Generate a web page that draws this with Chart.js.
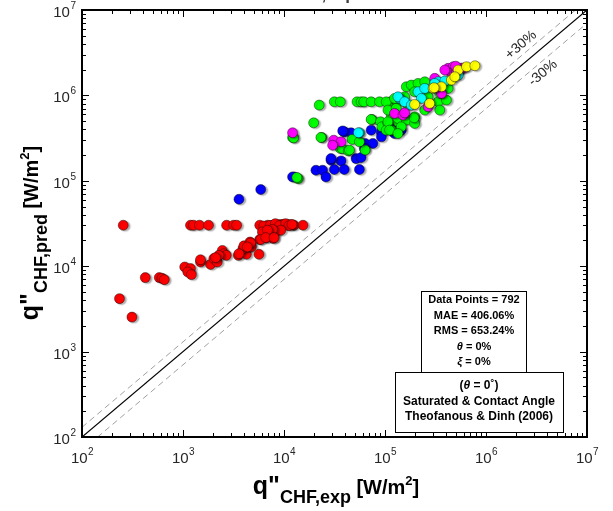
<!DOCTYPE html>
<html><head><meta charset="utf-8">
<script src="https://cdn.jsdelivr.net/npm/chart.js@4.4.1/dist/chart.umd.min.js"></script>
<style>html,body{margin:0;padding:0;background:#fff;}#wrap{width:613px;height:511px;}</style>
</head><body><div id="wrap"><canvas id="c" width="613" height="511"></canvas></div>
<script>
// ---- data (W/m^2) ----
const AXIS_MIN = 1e2, AXIS_MAX = 1e7;
const MAJOR_TICKS = [1e2, 1e3, 1e4, 1e5, 1e6, 1e7];
const MAJOR_EXP = ['2', '3', '4', '5', '6', '7'];
const MINOR_MULT = [2, 3, 4, 5, 6, 7, 8, 9];

const RED_X = [256,1186,1268,1455,1788,2700,3170,3395,5750,6900,7740,8680,9300,9950,10900,11700,12500,15400,6300,7300,8200,9000,10400,11200,12000,
  235,312,423,582,620,653,1040,1186,1115,1211,1489,1873,2019,2183,2448,2540,2680,3530,4240,3920,4010,4600,4750,5650,5740,6110,6700,7110,7800,8290,9290,7690,6850,5880,6590,7980,4680,4330,3580,2265,2100,1489];
const RED_Y = [30200,30200,30200,30200,30200,30200,30200,30200,30200,30200,30200,30500,30800,31000,30800,30500,30200,30200,29500,30000,31500,29800,31500,29800,30800,
  4170,2535,7350,7350,7210,6960,9790,9380,8560,7970,11200,10500,12300,11200,15300,14000,13400,13400,13800,16100,17300,19200,16800,13800,20500,25200,21600,23000,21100,25200,26400,26900,26400,20500,21600,21600,18700,16800,14000,13400,12600,11900];

const BLUE_X = [3580,5880,12600,12150,39500,46100,72900,91700,124300,115300,98900,144800,38100,63500,75800,62500,92000,29200,36700,51700,58000,29200,20700,24100,31500,39500,55800,26000];
const BLUE_Y = [60800,79000,111000,111000,374000,365000,392000,374000,358000,449000,449000,392000,384000,274000,274000,239000,327000,174000,171000,182000,187000,182000,133000,133000,135500,135500,135500,111000];

const GREEN_X = [13800,13400,22300,31500,36100,52900,58000,61700,72900,88200,113500,132100,19650,23600,23200,12150,12430,74100,72900,90200,93100,106900,115300,132100,115300,102800,134300,47200,36100,37550,43300,44400,63500,55800,
  102800,124300,162500,182100,212300,247200,156300,196500,106900,129200,169000,106900,134300,162500,196500,247200,335700,405500,348300,421700,110900,144800,196500,134300,266900,348300,193800];
const GREEN_Y = [106000,109400,770000,841000,841000,841000,841000,841000,841000,841000,841000,841000,477000,322000,322000,322000,318000,523000,523000,491000,429000,470000,571000,615000,392000,392000,491000,305000,239000,239000,224000,229000,229000,286000,
  841000,922000,1261000,1320000,1382000,1443000,963000,1102000,673000,704000,770000,491000,537000,513000,561000,673000,841000,881000,673000,1208000,392000,429000,470000,358000,963000,1055000,546000];

const MAGENTA_X = [12150,31000,36700,30300,124300,150600,156300,421700,473000,571800,266900,362200,454700,310500,510500,390400,530600,600000,500000];
const MAGENTA_Y = [365000,299000,286000,261000,615000,587000,625000,2074000,2164000,2074000,735000,1055000,1811000,1583000,1891000,1980000,2000000,2100000,2200000];

const CYAN_X = [55800,54500,139300,134300,156300,212300,247200,335700,390400,229100,530600,182100,310500];
const CYAN_Y = [365000,365000,922000,963000,841000,1102000,1208000,1443000,1471000,922000,1729000,770000,1382000];

const YELLOW_X = [196500,276700,299200,362200,454700,530600,641200,776000,491000,306000];
const YELLOW_Y = [784000,805000,1208000,1261000,1511000,1980000,2164000,2224000,1652000,1230000];

const BAND_FACTORS = [1.3, 0.7];
const STATS_LINES = [
  [['Data Points = 792','b']],
  [['MAE = 406.06%','b']],
  [['RMS = 653.24%','b']],
  [['\u03b8','i'],[' = 0%','b']],
  [['\u03be','i'],[' = 0%','b']]
];
const INFO_LINES = [
  [['(','b'],['\u03b8','i'],[' = 0','b'],['\u02da','b'],[')','b']],
  [['Saturated & Contact Angle','b']],
  [['Theofanous & Dinh (2006)','b']]
];

// ---- build ----
const pts = (xs, ys) => xs.map((x, i) => ({x, y: ys[i]}));
function scatter(label, xs, ys, color, order) {
  return {type:'scatter', label, data: pts(xs, ys), backgroundColor: color,
    borderColor: 'rgba(0,0,0,0.6)', borderWidth: 0.7, pointRadius: 5, pointHoverRadius: 5, order, isMarker: true};
}
function line(label, factor, color, dash, width) {
  return {type:'line', label, data: [{x: AXIS_MIN, y: AXIS_MIN*factor}, {x: AXIS_MAX, y: AXIS_MAX*factor}],
    borderColor: color, borderDash: dash, borderWidth: width, pointRadius: 0, fill: false, order: 10};
}

const FONT = '"Liberation Sans", Arial, sans-serif';

function drawSegs(ctx, segs, cx, y, size) {
  const f = s => (s[1] === 'i' ? 'italic bold ' : 'bold ') + size + 'px ' + FONT;
  let w = 0;
  segs.forEach(s => { ctx.font = f(s); w += ctx.measureText(s[0]).width; });
  let x = cx - w / 2;
  segs.forEach(s => { ctx.font = f(s); ctx.fillText(s[0], x, y); x += ctx.measureText(s[0]).width; });
}

const decor = {
  id: 'decor',
  beforeDatasetDraw(chart, args) {
    const ds = chart.data.datasets[args.index];
    if (ds.isMarker) {
      const ctx = chart.ctx;
      ctx.save();
      ctx.shadowColor = 'rgba(0,0,0,0.33)';
      ctx.shadowOffsetX = 2; ctx.shadowOffsetY = 1; ctx.shadowBlur = 1.5;
    }
  },
  afterDatasetDraw(chart, args) {
    const ds = chart.data.datasets[args.index];
    if (ds.isMarker) chart.ctx.restore();
  },
  afterDraw(chart) {
    const ctx = chart.ctx, ca = chart.chartArea;
    const xs = chart.scales.x, ys = chart.scales.y;
    ctx.save();
    // ticks (inward, all four sides)
    ctx.strokeStyle = '#000'; ctx.lineWidth = 1;
    const tick = (v, len) => {
      const px = Math.round(xs.getPixelForValue(v)) + 0.5;
      const py = Math.round(ys.getPixelForValue(v)) + 0.5;
      ctx.beginPath();
      ctx.moveTo(px, ca.bottom); ctx.lineTo(px, ca.bottom - len);
      ctx.moveTo(px, ca.top); ctx.lineTo(px, ca.top + len);
      ctx.moveTo(ca.left, py); ctx.lineTo(ca.left + len, py);
      ctx.moveTo(ca.right, py); ctx.lineTo(ca.right - len, py);
      ctx.stroke();
    };
    MAJOR_TICKS.forEach((v, i) => {
      tick(v, 7);
      if (i < MAJOR_TICKS.length - 1) MINOR_MULT.forEach(m => tick(v * m, 4));
    });
    // frame
    ctx.lineWidth = 2;
    ctx.strokeRect(ca.left, ca.top, ca.right - ca.left, ca.bottom - ca.top);

    // tick labels
    ctx.fillStyle = '#262626';
    ctx.textBaseline = 'alphabetic';
    MAJOR_TICKS.forEach((v, i) => {
      ctx.font = '15px ' + FONT;
      const w10 = ctx.measureText('10').width;
      ctx.font = '10px ' + FONT;
      const we = ctx.measureText(MAJOR_EXP[i]).width;
      const px = xs.getPixelForValue(v);
      let x0 = px - (w10 + we) / 2;
      ctx.font = '15px ' + FONT; ctx.textAlign = 'left';
      ctx.fillText('10', x0, 463);
      ctx.font = '10px ' + FONT;
      ctx.fillText(MAJOR_EXP[i], x0 + w10 + 0.5, 455);
      const py = ys.getPixelForValue(v);
      const xr = ca.left - 6;
      ctx.fillText(MAJOR_EXP[i], xr - we, py - 1);
      ctx.font = '15px ' + FONT;
      ctx.fillText('10', xr - we - w10 - 0.5, py + 7);
    });

    // top clipped title fragment
    ctx.fillStyle = '#404040';
    ctx.font = 'bold 17px ' + FONT; ctx.textAlign = 'center';
    ctx.fillText('CHF,exp', 322, 0);

    // axis titles
    const title = (sub) => [
      ['q"', 'bold 25px ' + FONT, 0],
      [sub, 'bold 18px ' + FONT, 9],
      [' [W/m', 'bold 20px ' + FONT, 0],
      ['2', 'bold 13px ' + FONT, -9],
      [']', 'bold 20px ' + FONT, 0]
    ];
    const drawTitle = (parts, cx, base) => {
      let w = 0;
      parts.forEach(p => { ctx.font = p[1]; w += ctx.measureText(p[0]).width; });
      let x = cx - w / 2;
      ctx.textAlign = 'left';
      parts.forEach(p => { ctx.font = p[1]; ctx.fillText(p[0], x, base + p[2]); x += ctx.measureText(p[0]).width; });
    };
    ctx.fillStyle = '#000';
    drawTitle(title('CHF,exp'), 336, 494);
    ctx.save();
    ctx.translate(38, 233); ctx.rotate(-Math.PI / 2);
    drawTitle(title('CHF,pred'), 0, 0);
    ctx.restore();

    // band labels
    const ang = Math.atan2(ys.getPixelForValue(1e5) - ys.getPixelForValue(1e6), xs.getPixelForValue(1e6) - xs.getPixelForValue(1e5));
    ctx.fillStyle = '#262626'; ctx.font = '14px ' + FONT; ctx.textAlign = 'center'; ctx.textBaseline = 'middle';
    ctx.save(); ctx.translate(521, 45); ctx.rotate(-ang); ctx.fillText('+30%', 0, 0); ctx.restore();
    ctx.save(); ctx.translate(543, 73); ctx.rotate(-ang); ctx.fillText('-30%', 0, 0); ctx.restore();

    // text boxes
    ctx.textBaseline = 'middle';
    ctx.lineWidth = 1; ctx.strokeStyle = '#000';
    ctx.fillStyle = '#fff';
    ctx.fillRect(421, 291, 105, 81); ctx.strokeRect(421.5, 291.5, 105, 81);
    ctx.fillRect(395, 372, 168, 60); ctx.strokeRect(395.5, 372.5, 168, 60);
    ctx.fillStyle = '#000'; ctx.textAlign = 'left';
    STATS_LINES.forEach((segs, i) => drawSegs(ctx, segs, 474, 300 + i * 15.5, 11));
    INFO_LINES.forEach((segs, i) => drawSegs(ctx, segs, 479, 386 + i * 15.5, 12));
    ctx.restore();
  }
};

new Chart(document.getElementById('c'), {
  data: {
    datasets: [
      scatter('yellow', YELLOW_X, YELLOW_Y, '#ffff00', 0),
      scatter('cyan', CYAN_X, CYAN_Y, '#00ffff', 1),
      scatter('magenta', MAGENTA_X, MAGENTA_Y, '#ff00ff', 2),
      scatter('green', GREEN_X, GREEN_Y, '#00ff00', 3),
      scatter('blue', BLUE_X, BLUE_Y, '#0000ff', 4),
      scatter('red', RED_X, RED_Y, '#ff0000', 5),
      line('y = x', 1, '#000', [], 1.2),
      line('+30%', BAND_FACTORS[0], '#a0a0a0', [6, 4], 1),
      line('-30%', BAND_FACTORS[1], '#a0a0a0', [6, 4], 1)
    ]
  },
  options: {
    responsive: false, animation: false, devicePixelRatio: 1,
    layout: {padding: {left: 0, top: 10, right: 26, bottom: 0}},
    plugins: {legend: {display: false}, tooltip: {enabled: false}},
    scales: {
      x: {type: 'logarithmic', min: AXIS_MIN, max: AXIS_MAX,
          ticks: {display: false}, grid: {display: false}, border: {display: false},
          afterFit: s => { s.height = 74; }},
      y: {type: 'logarithmic', min: AXIS_MIN, max: AXIS_MAX,
          ticks: {display: false}, grid: {display: false}, border: {display: false},
          afterFit: s => { s.width = 82; }}
    }
  },
  plugins: [decor]
});
</script></body></html>
